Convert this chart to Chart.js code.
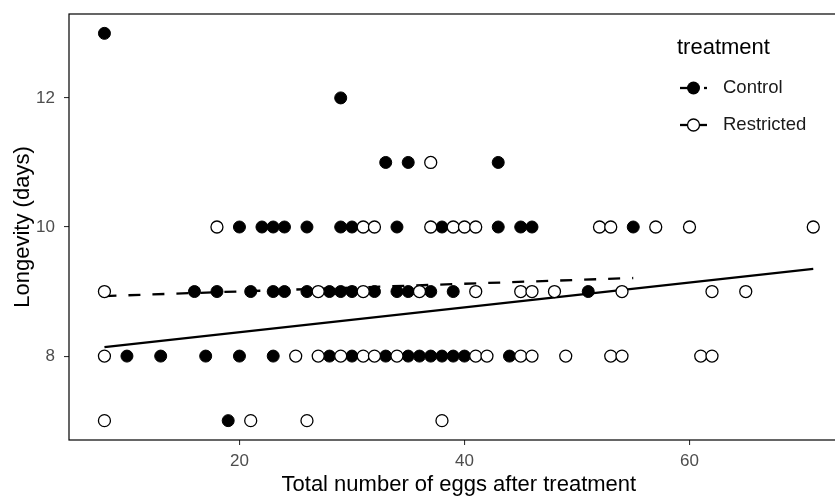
<!DOCTYPE html>
<html>
<head>
<meta charset="utf-8">
<script src="https://cdn.jsdelivr.net/npm/chart.js@4"></script>
<style>
  html, body { margin: 0; padding: 0; background: #fff; overflow: hidden; }
  canvas { display: block; }
</style>
</head>
<body>
<!-- the reference panel runs past the right edge of the picture, so the canvas is a bit wider than the window -->
<canvas id="chart" width="856" height="497"></canvas>
<script>
// eggs laid after treatment vs longevity
const controlEggs = [8, 29, 33, 35, 43,
  20, 22, 23, 24, 26, 29, 30, 34, 38, 43, 45, 46, 55,
  16, 18, 21, 23, 24, 26, 28, 29, 30, 32, 34, 35, 37, 39, 51,
  10, 13, 17, 20, 23, 28, 30, 33, 35, 36, 37, 38, 39, 40, 44,
  19];
const controlDays = [13, 12, 11, 11, 11,
  10, 10, 10, 10, 10, 10, 10, 10, 10, 10, 10, 10, 10,
  9, 9, 9, 9, 9, 9, 9, 9, 9, 9, 9, 9, 9, 9, 9,
  8, 8, 8, 8, 8, 8, 8, 8, 8, 8, 8, 8, 8, 8, 8,
  7];

const restrictedEggs = [37,
  18, 31, 32, 37, 39, 40, 41, 52, 53, 57, 60, 71,
  8, 27, 31, 36, 41, 45, 46, 48, 54, 62, 65,
  8, 25, 27, 29, 31, 32, 34, 41, 42, 45, 46, 49, 53, 54, 61, 62,
  8, 21, 26, 38];
const restrictedDays = [11,
  10, 10, 10, 10, 10, 10, 10, 10, 10, 10, 10, 10,
  9, 9, 9, 9, 9, 9, 9, 9, 9, 9, 9,
  8, 8, 8, 8, 8, 8, 8, 8, 8, 8, 8, 8, 8, 8, 8, 8,
  7, 7, 7, 7];

// fitted lines (end points)
const controlFitEggs = [8, 55];
const controlFitDays = [8.93, 9.21];
const restrictedFitEggs = [8, 71];
const restrictedFitDays = [8.14, 9.35];

const xTicks = [20, 40, 60];
const yTicks = [8, 10, 12];

const FONT = '"Liberation Sans", Arial, Helvetica, sans-serif';

function pairs(xs, ys) {
  return xs.map((x, i) => ({ x, y: ys[i] }));
}

function noPad(s) {
  s.paddingLeft = 0; s.paddingRight = 0; s.paddingTop = 0; s.paddingBottom = 0;
}

// panel border + ggplot-like legend
const panelAndLegend = {
  id: 'panelAndLegend',
  afterDatasetsDraw(chart) {
    const { ctx, chartArea: a } = chart;
    ctx.save();
    ctx.strokeStyle = '#000';
    ctx.lineWidth = 1.2;
    ctx.strokeRect(a.left, a.top, a.right - a.left, a.bottom - a.top);

    ctx.fillStyle = '#000';
    ctx.textBaseline = 'middle';
    ctx.textAlign = 'left';
    ctx.font = '22px ' + FONT;
    ctx.fillText('treatment', 677, 48);

    const keys = [
      { label: 'Control', y: 88, filled: true, dash: [12, 12] },
      { label: 'Restricted', y: 125, filled: false, dash: [] }
    ];
    keys.forEach(k => {
      ctx.beginPath();
      ctx.setLineDash(k.dash);
      ctx.lineWidth = 2.3;
      ctx.moveTo(680, k.y);
      ctx.lineTo(707, k.y);
      ctx.stroke();
      ctx.setLineDash([]);
      ctx.beginPath();
      ctx.arc(693.5, k.y, k.filled ? 6.5 : 6, 0, Math.PI * 2);
      ctx.fillStyle = k.filled ? '#000' : '#fff';
      ctx.fill();
      if (!k.filled) { ctx.lineWidth = 1.3; ctx.stroke(); }
      ctx.fillStyle = '#1a1a1a';
      ctx.font = '18.5px ' + FONT;
      ctx.fillText(k.label, 723, k.y);
    });
    ctx.restore();
  }
};

new Chart(document.getElementById('chart'), {
  type: 'scatter',
  data: {
    datasets: [
      {
        label: 'Restricted',
        data: pairs(restrictedEggs, restrictedDays),
        pointRadius: 6,
        pointBackgroundColor: '#fff',
        pointBorderColor: '#000',
        pointBorderWidth: 1.3
      },
      {
        label: 'Control',
        data: pairs(controlEggs, controlDays),
        pointRadius: 6,
        pointBackgroundColor: '#000',
        pointBorderColor: '#000',
        pointBorderWidth: 1
      },
      {
        type: 'line',
        label: 'Control fit',
        data: pairs(controlFitEggs, controlFitDays),
        borderColor: '#000',
        borderWidth: 2.3,
        borderDash: [12, 12],
        pointRadius: 0,
        fill: false
      },
      {
        type: 'line',
        label: 'Restricted fit',
        data: pairs(restrictedFitEggs, restrictedFitDays),
        borderColor: '#000',
        borderWidth: 2.3,
        pointRadius: 0,
        fill: false
      }
    ]
  },
  options: {
    responsive: false,
    animation: false,
    events: [],
    layout: { padding: { left: 0, right: 0, top: 14, bottom: 0 } },
    plugins: {
      legend: { display: false },
      tooltip: { enabled: false }
    },
    scales: {
      x: {
        type: 'linear',
        min: 4.85,
        max: 74.15,
        afterFit: s => { s.height = 57; noPad(s); },
        afterBuildTicks: s => { s.ticks = xTicks.map(v => ({ value: v })); },
        grid: { drawOnChartArea: false, drawTicks: true, tickLength: 5, color: '#333', lineWidth: 1.1 },
        border: { display: false },
        ticks: { color: '#4d4d4d', padding: 6, font: { family: FONT, size: 17 } },
        title: {
          display: true,
          text: 'Total number of eggs after treatment',
          color: '#000',
          font: { family: FONT, size: 22, lineHeight: 1 },
          padding: { top: 0, bottom: 1 }
        }
      },
      y: {
        type: 'linear',
        min: 6.7,
        max: 13.3,
        afterFit: s => { s.width = 69; noPad(s); },
        afterBuildTicks: s => { s.ticks = yTicks.map(v => ({ value: v })); },
        grid: { drawOnChartArea: false, drawTicks: true, tickLength: 5, color: '#333', lineWidth: 1.1 },
        border: { display: false },
        ticks: { color: '#4d4d4d', padding: 9, font: { family: FONT, size: 17 } },
        title: {
          display: true,
          text: 'Longevity (days)',
          color: '#000',
          font: { family: FONT, size: 22, lineHeight: 1 },
          padding: { top: 12, bottom: 0 }
        }
      }
    }
  },
  plugins: [panelAndLegend]
});
</script>
</body>
</html>
